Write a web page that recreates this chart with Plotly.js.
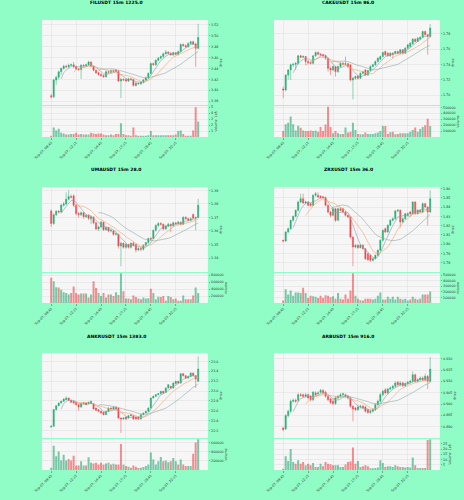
<!DOCTYPE html>
<html><head><meta charset="utf-8">
<script src="https://cdn.plot.ly/plotly-3.0.1.min.js"></script>
<style>html,body{margin:0;padding:0;background:#8ffdc5;}#c{width:464px;height:500px;}</style>
</head><body><div id="c"></div>
<script>
// ---------- DATA ----------
const timeLabels = ["Sep 07, 09:45","Sep 07, 12:15","Sep 07, 14:45","Sep 07, 17:15","Sep 07, 19:45","Sep 07, 22:15"];
const timeTickIdx = [0,10,20,30,40,50];

const fil_open  = [3.390,3.388,3.419,3.424,3.434,3.440,3.444,3.443,3.446,3.447,3.443,3.439,3.438,3.446,3.445,3.447,3.452,3.444,3.437,3.432,3.429,3.427,3.425,3.434,3.433,3.436,3.437,3.435,3.417,3.420,3.420,3.417,3.421,3.420,3.409,3.413,3.412,3.415,3.419,3.423,3.431,3.449,3.447,3.455,3.459,3.462,3.467,3.470,3.468,3.465,3.469,3.466,3.471,3.484,3.482,3.480,3.486,3.489,3.485,3.477];
const fil_close = [3.388,3.419,3.424,3.434,3.440,3.444,3.443,3.446,3.447,3.443,3.439,3.438,3.446,3.445,3.447,3.452,3.444,3.437,3.432,3.429,3.427,3.425,3.434,3.433,3.436,3.435,3.435,3.417,3.420,3.419,3.417,3.421,3.420,3.409,3.413,3.412,3.415,3.419,3.423,3.431,3.449,3.447,3.455,3.459,3.462,3.467,3.470,3.468,3.465,3.469,3.466,3.471,3.484,3.482,3.480,3.486,3.489,3.485,3.477,3.497];
const fil_high  = [3.393,3.421,3.427,3.436,3.442,3.447,3.447,3.449,3.449,3.452,3.445,3.441,3.448,3.448,3.449,3.454,3.453,3.445,3.438,3.434,3.431,3.429,3.436,3.436,3.438,3.438,3.439,3.437,3.423,3.422,3.422,3.423,3.423,3.421,3.415,3.414,3.417,3.421,3.425,3.433,3.451,3.451,3.457,3.461,3.464,3.469,3.474,3.472,3.470,3.471,3.470,3.473,3.486,3.486,3.484,3.488,3.491,3.491,3.487,3.522];
const fil_low   = [3.385,3.386,3.410,3.420,3.428,3.438,3.441,3.441,3.444,3.441,3.437,3.436,3.421,3.443,3.443,3.445,3.443,3.435,3.430,3.427,3.425,3.423,3.423,3.431,3.431,3.433,3.433,3.415,3.386,3.417,3.415,3.415,3.418,3.407,3.407,3.410,3.410,3.413,3.417,3.421,3.429,3.445,3.445,3.453,3.457,3.460,3.465,3.466,3.463,3.463,3.464,3.464,3.469,3.480,3.478,3.478,3.484,3.483,3.443,3.475];
const fil_vol   = [0.2,1.6,1.1,1.4,0.7,0.6,0.4,0.4,0.5,0.5,0.7,0.4,0.5,0.4,0.4,0.4,0.7,0.6,0.5,0.6,0.6,0.4,0.3,0.3,0.4,0.3,0.5,0.5,2.3,0.5,0.3,0.3,0.2,1.6,0.3,0.2,0.2,0.2,0.2,0.3,1.0,0.3,0.3,0.3,0.3,0.3,0.3,0.3,0.3,0.3,0.4,1.0,1.1,0.5,0.2,0.2,0.2,1.1,5.0,2.6];

const cake_open  = [1.7080,1.7066,1.7262,1.7328,1.7394,1.7402,1.7415,1.7512,1.7494,1.7503,1.7437,1.7424,1.7415,1.7512,1.7555,1.7533,1.7525,1.7512,1.7481,1.7350,1.7328,1.7372,1.7306,1.7372,1.7415,1.7402,1.7410,1.7394,1.7197,1.7219,1.7249,1.7219,1.7284,1.7328,1.7262,1.7319,1.7372,1.7394,1.7437,1.7468,1.7503,1.7568,1.7547,1.7512,1.7547,1.7547,1.7568,1.7547,1.7590,1.7547,1.7612,1.7634,1.7669,1.7730,1.7699,1.7730,1.7756,1.7831,1.7787,1.7765];
const cake_close = [1.7066,1.7262,1.7328,1.7394,1.7402,1.7415,1.7512,1.7494,1.7503,1.7437,1.7424,1.7415,1.7512,1.7555,1.7533,1.7525,1.7512,1.7481,1.7350,1.7328,1.7372,1.7306,1.7372,1.7415,1.7402,1.7410,1.7372,1.7197,1.7219,1.7241,1.7219,1.7284,1.7300,1.7262,1.7319,1.7372,1.7394,1.7437,1.7481,1.7503,1.7555,1.7525,1.7512,1.7547,1.7533,1.7568,1.7547,1.7590,1.7547,1.7612,1.7656,1.7678,1.7730,1.7699,1.7743,1.7756,1.7831,1.7787,1.7765,1.7874];
const cake_high  = [1.7110,1.7270,1.7340,1.7410,1.7420,1.7430,1.7525,1.7525,1.7520,1.7510,1.7460,1.7440,1.7520,1.7570,1.7570,1.7550,1.7540,1.7525,1.7490,1.7372,1.7390,1.7380,1.7385,1.7430,1.7430,1.7503,1.7420,1.7400,1.7240,1.7255,1.7262,1.7295,1.7320,1.7340,1.7330,1.7385,1.7410,1.7450,1.7495,1.7515,1.7570,1.7580,1.7560,1.7560,1.7560,1.7580,1.7580,1.7600,1.7600,1.7625,1.7665,1.7690,1.7743,1.7740,1.7756,1.7765,1.7840,1.7840,1.7795,1.7927];
const cake_low   = [1.6957,1.7050,1.7200,1.7197,1.7370,1.7328,1.7400,1.7480,1.7485,1.7394,1.7400,1.7400,1.7400,1.7500,1.7520,1.7510,1.7495,1.7460,1.7306,1.7262,1.7310,1.7241,1.7290,1.7360,1.7390,1.7390,1.7350,1.7180,1.6943,1.7200,1.7200,1.7210,1.7270,1.7250,1.7250,1.7310,1.7360,1.7380,1.7425,1.7455,1.7490,1.7510,1.7500,1.7500,1.7480,1.7535,1.7535,1.7535,1.7530,1.7535,1.7600,1.7620,1.7655,1.7690,1.7690,1.7720,1.7745,1.7775,1.7525,1.7750];
const cake_vol   = [100000,215000,240000,345000,215000,110000,190000,155000,110000,100000,100000,110000,100000,110000,90000,170000,100000,210000,510000,170000,65000,100000,65000,50000,50000,160000,75000,90000,240000,120000,50000,45000,45000,75000,50000,50000,50000,65000,75000,100000,185000,185000,50000,80000,90000,45000,50000,65000,65000,65000,65000,90000,120000,160000,90000,135000,170000,200000,310000,185000];

const uma_open  = [1.3748,1.3655,1.3720,1.3745,1.3740,1.3790,1.3800,1.3835,1.3855,1.3860,1.3790,1.3730,1.3720,1.3735,1.3705,1.3715,1.3690,1.3700,1.3660,1.3615,1.3630,1.3665,1.3610,1.3625,1.3600,1.3600,1.3575,1.3575,1.3490,1.3510,1.3480,1.3500,1.3480,1.3510,1.3500,1.3460,1.3470,1.3465,1.3495,1.3515,1.3545,1.3545,1.3605,1.3640,1.3655,1.3650,1.3615,1.3635,1.3650,1.3640,1.3660,1.3655,1.3665,1.3650,1.3700,1.3690,1.3680,1.3722,1.3695,1.3700];
const uma_close = [1.3655,1.3720,1.3745,1.3740,1.3790,1.3800,1.3835,1.3855,1.3850,1.3790,1.3730,1.3720,1.3735,1.3705,1.3715,1.3695,1.3705,1.3660,1.3615,1.3630,1.3665,1.3610,1.3625,1.3600,1.3605,1.3575,1.3580,1.3490,1.3510,1.3480,1.3500,1.3480,1.3510,1.3495,1.3460,1.3470,1.3465,1.3495,1.3515,1.3545,1.3540,1.3605,1.3640,1.3655,1.3650,1.3615,1.3635,1.3650,1.3640,1.3660,1.3655,1.3665,1.3650,1.3700,1.3690,1.3680,1.3690,1.3695,1.3700,1.3790];
const uma_high  = [1.3760,1.3730,1.3755,1.3755,1.3800,1.3815,1.3885,1.3900,1.3870,1.3870,1.3800,1.3740,1.3745,1.3740,1.3725,1.3725,1.3715,1.3710,1.3665,1.3640,1.3675,1.3670,1.3635,1.3630,1.3615,1.3610,1.3590,1.3580,1.3520,1.3515,1.3510,1.3505,1.3515,1.3520,1.3505,1.3480,1.3480,1.3500,1.3520,1.3550,1.3555,1.3610,1.3650,1.3665,1.3665,1.3655,1.3645,1.3660,1.3655,1.3670,1.3665,1.3675,1.3670,1.3710,1.3710,1.3700,1.3700,1.3730,1.3705,1.3838];
const uma_low   = [1.3630,1.3645,1.3710,1.3730,1.3735,1.3780,1.3790,1.3825,1.3840,1.3780,1.3715,1.3700,1.3710,1.3690,1.3695,1.3680,1.3650,1.3650,1.3605,1.3600,1.3620,1.3600,1.3600,1.3590,1.3590,1.3565,1.3565,1.3470,1.3339,1.3470,1.3470,1.3470,1.3470,1.3485,1.3440,1.3450,1.3450,1.3455,1.3490,1.3505,1.3530,1.3540,1.3595,1.3630,1.3640,1.3605,1.3610,1.3630,1.3590,1.3630,1.3645,1.3645,1.3640,1.3645,1.3685,1.3670,1.3670,1.3690,1.3605,1.3695];
const uma_vol   = [727000,627000,455000,445000,380000,310000,290000,245000,290000,470000,290000,245000,270000,270000,270000,155000,245000,627000,430000,290000,200000,290000,155000,245000,245000,200000,310000,227000,855000,336000,127000,127000,110000,218000,172000,127000,110000,155000,127000,136000,409000,290000,110000,182000,172000,200000,65000,200000,172000,110000,127000,65000,65000,218000,110000,110000,110000,218000,445000,290000];

const zrx_open  = [1.8042,1.8035,1.8132,1.8168,1.8258,1.8301,1.8366,1.8456,1.8492,1.8445,1.8456,1.8438,1.8420,1.8528,1.8528,1.8517,1.8510,1.8503,1.8420,1.8348,1.8312,1.8384,1.8258,1.8384,1.8384,1.8348,1.8312,1.8294,1.8078,1.7970,1.7988,1.7963,1.7988,1.7952,1.7898,1.7880,1.7826,1.7844,1.7880,1.7934,1.8042,1.8168,1.8132,1.8204,1.8258,1.8276,1.8359,1.8366,1.8240,1.8276,1.8312,1.8348,1.8330,1.8456,1.8330,1.8366,1.8348,1.8438,1.8402,1.8348];
const zrx_close = [1.8035,1.8132,1.8168,1.8258,1.8301,1.8366,1.8456,1.8492,1.8445,1.8456,1.8420,1.8420,1.8528,1.8546,1.8510,1.8503,1.8503,1.8420,1.8348,1.8312,1.8384,1.8258,1.8384,1.8366,1.8348,1.8312,1.8294,1.8078,1.7970,1.7988,1.7963,1.7988,1.7952,1.7844,1.7833,1.7826,1.7844,1.7880,1.7934,1.8042,1.8150,1.8132,1.8204,1.8258,1.8276,1.8359,1.8366,1.8240,1.8276,1.8330,1.8330,1.8330,1.8456,1.8330,1.8366,1.8348,1.8438,1.8402,1.8348,1.8492];
const zrx_high  = [1.8050,1.8140,1.8180,1.8265,1.8310,1.8375,1.8470,1.8546,1.8546,1.8470,1.8465,1.8450,1.8540,1.8564,1.8560,1.8530,1.8520,1.8515,1.8430,1.8360,1.8395,1.8390,1.8395,1.8400,1.8395,1.8360,1.8320,1.8300,1.8085,1.8000,1.8000,1.8000,1.8000,1.7960,1.7910,1.7890,1.7855,1.7890,1.7945,1.8055,1.8160,1.8180,1.8215,1.8270,1.8290,1.8370,1.8380,1.8375,1.8290,1.8340,1.8345,1.8360,1.8465,1.8465,1.8380,1.8380,1.8450,1.8450,1.8410,1.8582];
const zrx_low   = [1.8020,1.8025,1.8120,1.8155,1.8245,1.8290,1.8355,1.8445,1.8435,1.8430,1.8410,1.8405,1.8410,1.8515,1.8500,1.8490,1.8490,1.8410,1.8330,1.8290,1.8300,1.8240,1.8250,1.8355,1.8335,1.8300,1.8280,1.8060,1.7761,1.7955,1.7950,1.7955,1.7940,1.7830,1.7820,1.7810,1.7815,1.7835,1.7870,1.7925,1.8030,1.8120,1.8120,1.8195,1.8245,1.8265,1.8345,1.8180,1.8230,1.8265,1.8300,1.8315,1.8320,1.8320,1.8320,1.8335,1.8335,1.8390,1.8204,1.8340];
const zrx_vol   = [46000,245000,150000,223000,131000,190000,190000,177000,275000,177000,90000,131000,120000,110000,90000,131000,90000,137000,131000,103000,120000,75000,177000,75000,63000,150000,75000,223000,531000,131000,75000,51000,46000,75000,75000,75000,63000,75000,131000,190000,63000,63000,110000,75000,110000,63000,110000,75000,63000,75000,46000,63000,110000,75000,63000,75000,150000,150000,150000,205000];

const ankr_open  = [22.273,22.287,22.624,22.704,22.758,22.792,22.826,22.859,22.812,22.792,22.772,22.725,22.677,22.745,22.758,22.745,22.745,22.745,22.657,22.624,22.590,22.570,22.523,22.590,22.657,22.637,22.671,22.657,22.455,22.435,22.475,22.455,22.523,22.502,22.475,22.475,22.435,22.523,22.556,22.590,22.657,22.859,22.893,22.927,22.947,22.994,22.974,23.061,23.095,23.061,23.149,23.196,23.162,23.351,23.310,23.263,23.297,23.364,23.310,23.196];
const ankr_close = [22.290,22.624,22.704,22.758,22.792,22.839,22.859,22.812,22.772,22.758,22.725,22.677,22.745,22.758,22.725,22.772,22.792,22.637,22.610,22.590,22.556,22.523,22.590,22.657,22.637,22.671,22.637,22.455,22.435,22.455,22.435,22.502,22.502,22.435,22.435,22.435,22.523,22.556,22.590,22.657,22.859,22.893,22.927,22.947,22.994,22.960,23.061,23.129,23.061,23.162,23.196,23.162,23.351,23.310,23.263,23.297,23.364,23.310,23.243,23.445];
const ankr_high  = [22.300,22.640,22.715,22.770,22.805,22.850,22.893,22.870,22.825,22.805,22.785,22.735,22.755,22.770,22.770,22.785,22.805,22.755,22.665,22.635,22.600,22.580,22.600,22.670,22.670,22.685,22.685,22.665,22.465,22.465,22.485,22.515,22.535,22.515,22.485,22.485,22.535,22.565,22.600,22.670,22.870,22.905,22.940,22.960,23.005,23.005,23.075,23.140,23.105,23.175,23.210,23.210,23.365,23.365,23.320,23.310,23.375,23.375,23.320,23.701];
const ankr_low   = [22.260,22.280,22.610,22.690,22.745,22.780,22.815,22.800,22.760,22.745,22.710,22.603,22.665,22.735,22.715,22.735,22.735,22.625,22.600,22.580,22.545,22.510,22.515,22.580,22.625,22.625,22.625,22.440,22.152,22.420,22.420,22.445,22.490,22.420,22.420,22.420,22.425,22.510,22.545,22.580,22.645,22.845,22.880,22.915,22.935,22.945,22.960,23.050,23.050,23.050,23.135,23.150,23.150,23.295,23.250,23.250,23.285,23.300,23.061,23.185];
const ankr_vol   = [50000,529000,300000,407000,207000,336000,207000,243000,207000,314000,100000,100000,193000,100000,100000,279000,157000,143000,157000,121000,157000,121000,143000,157000,121000,136000,121000,121000,571000,121000,86000,71000,50000,100000,71000,43000,50000,64000,86000,121000,386000,229000,121000,193000,286000,193000,207000,171000,193000,264000,193000,121000,229000,121000,86000,86000,86000,357000,600000,671000];

const arb_open  = [0.8894,0.8890,0.8949,0.8968,0.9012,0.9016,0.9016,0.9041,0.9041,0.9034,0.9041,0.9034,0.9019,0.9049,0.9045,0.9052,0.9060,0.9052,0.9034,0.9022,0.9012,0.9002,0.9027,0.9034,0.9041,0.9041,0.9034,0.9027,0.8990,0.8982,0.8975,0.8987,0.8990,0.8987,0.8975,0.8963,0.8968,0.8975,0.8997,0.9012,0.9041,0.9063,0.9049,0.9066,0.9071,0.9078,0.9096,0.9085,0.9093,0.9081,0.9090,0.9096,0.9100,0.9129,0.9100,0.9107,0.9115,0.9107,0.9122,0.9100];
const arb_close = [0.8887,0.8949,0.8968,0.9012,0.9016,0.9012,0.9041,0.9038,0.9034,0.9041,0.9027,0.9019,0.9052,0.9041,0.9049,0.9060,0.9049,0.9034,0.9019,0.9007,0.9002,0.9027,0.9034,0.9041,0.9045,0.9034,0.9027,0.8990,0.8978,0.8975,0.8987,0.8990,0.8982,0.8968,0.8963,0.8968,0.8975,0.8997,0.9012,0.9041,0.9056,0.9049,0.9066,0.9071,0.9078,0.9093,0.9085,0.9093,0.9081,0.9090,0.9096,0.9100,0.9129,0.9100,0.9107,0.9115,0.9107,0.9122,0.9100,0.9154];
const arb_high  = [0.8900,0.8955,0.8975,0.9020,0.9024,0.9024,0.9048,0.9048,0.9046,0.9048,0.9046,0.9040,0.9058,0.9056,0.9056,0.9066,0.9066,0.9058,0.9040,0.9028,0.9018,0.9034,0.9040,0.9048,0.9050,0.9046,0.9040,0.9032,0.8995,0.8988,0.8994,0.8996,0.8996,0.8992,0.8980,0.8975,0.8982,0.9004,0.9020,0.9048,0.9063,0.9070,0.9072,0.9078,0.9085,0.9100,0.9102,0.9100,0.9098,0.9096,0.9102,0.9107,0.9144,0.9134,0.9114,0.9122,0.9122,0.9134,0.9128,0.9207];
const arb_low   = [0.8880,0.8885,0.8940,0.8960,0.9005,0.9005,0.9010,0.9032,0.9028,0.9028,0.9020,0.9012,0.9012,0.9035,0.9038,0.9046,0.9042,0.9028,0.9012,0.9000,0.8995,0.8996,0.9020,0.9028,0.9035,0.9028,0.9020,0.8984,0.8924,0.8968,0.8970,0.8980,0.8976,0.8962,0.8956,0.8956,0.8962,0.8970,0.8990,0.9005,0.9035,0.9042,0.9042,0.9060,0.9065,0.9072,0.9078,0.9078,0.9075,0.9075,0.9084,0.9090,0.9094,0.9094,0.9094,0.9100,0.9100,0.9100,0.9066,0.9094];
const arb_vol   = [1.3,13.2,8.7,20.0,7.7,6.1,9.4,6.1,7.7,4.5,6.1,4.5,6.8,2.9,2.9,6.1,3.5,7.7,6.1,5.5,4.5,4.5,4.5,2.9,2.9,5.2,7.7,8.4,21.6,6.1,8.7,2.9,3.5,4.5,3.5,1.6,1.6,1.9,2.3,9.4,6.8,2.9,3.5,3.5,2.9,4.5,3.5,2.9,2.9,2.3,2.9,2.3,11.9,4.5,1.9,1.9,1.9,1.9,28.7,29.4];

const fil_ticks=[3.38,3.40,3.42,3.44,3.46,3.48,3.50,3.52], fil_vticks=[1,2,3,4,5];
const cake_ticks=[1.70,1.72,1.74,1.76,1.78], cake_vticks=[100000,200000,300000,400000,500000];
const uma_ticks=[1.34,1.35,1.36,1.37,1.38,1.39], uma_vticks=[200000,400000,600000,800000];
const zrx_ticks=[1.78,1.79,1.80,1.81,1.82,1.83,1.84,1.85,1.86], zrx_vticks=[100000,200000,300000,400000,500000];
const ankr_ticks=[22.2,22.4,22.6,22.8,23.0,23.2,23.4,23.6], ankr_vticks=[200000,400000,600000];
const arb_ticks=[0.890,0.895,0.900,0.905,0.910,0.915,0.920], arb_vticks=[5,10,15,20,25];

const maPeriods=[5,10,20];

// ---------- STYLE / LAYOUT ----------
const UP='#25ad75', DN='#ef4a4f', UPV='rgba(37,173,117,0.62)', DNV='rgba(239,74,79,0.62)';
const MA_COL=['#8e9aa8','#f2a469','#8faaa4'];
const FONT='DejaVu Sans';
const colX=[[0.0905,0.448],[0.5905,0.948]];
const rowP=[[0.790,0.960],[0.456,0.626],[0.124,0.294]];
const rowV=[[0.726,0.788],[0.394,0.454],[0.060,0.122]];
const titleY=[1-2.7/500,1-169.7/500,1-336/500];
const XR=[-3.7,62.9];

const panels=[
 {t:'FILUSDT 15m 1225.0',o:fil_open,h:fil_high,l:fil_low,c:fil_close,v:fil_vol,pr:[3.373,3.529],pt:fil_ticks,pf:'.2f',vr:[0,5.2],vt:fil_vticks,vtitle:'Volume  1e5'},
 {t:'CAKEUSDT 15m 86.0',o:cake_open,h:cake_high,l:cake_low,c:cake_close,v:cake_vol,pr:[1.687,1.798],pt:cake_ticks,pf:'.2f',vr:[0,524000],vt:cake_vticks,vtitle:'Volume'},
 {t:'UMAUSDT 15m 28.0',o:uma_open,h:uma_high,l:uma_low,c:uma_close,v:uma_vol,pr:[1.3297,1.3925],pt:uma_ticks,pf:'.2f',vr:[0,860000],vt:uma_vticks,vtitle:'Volume'},
 {t:'ZRXUSDT 15m 36.0',o:zrx_open,h:zrx_high,l:zrx_low,c:zrx_close,v:zrx_vol,pr:[1.770,1.8618],pt:zrx_ticks,pf:'.2f',vr:[0,537000],vt:zrx_vticks,vtitle:'Volume'},
 {t:'ANKRUSDT 15m 1383.0',o:ankr_open,h:ankr_high,l:ankr_low,c:ankr_close,v:ankr_vol,pr:[22.05,23.77],pt:ankr_ticks,pf:'.1f',vr:[0,679000],vt:ankr_vticks,vtitle:'Volume'},
 {t:'ARBUSDT 15m 916.0',o:arb_open,h:arb_high,l:arb_low,c:arb_close,v:arb_vol,pr:[0.885,0.9225],pt:arb_ticks,pf:'.3f',vr:[0,29.7],vt:arb_vticks,vtitle:'Volume  1e5'}
];

function sma(arr,n){return arr.map((v,i)=>{if(i<n-1)return null;let s=0;for(let j=i-n+1;j<=i;j++)s+=arr[j];return s/n;});}
function sfx(n){return n===1?'':String(n);}

const idx=fil_close.map((_,i)=>i);
const traces=[], layout={
  width:464,height:500,margin:{l:0,r:0,t:0,b:0},
  paper_bgcolor:'#8ffdc5',plot_bgcolor:'#f6f6f6',showlegend:false,
  font:{family:FONT,color:'#333',size:4},annotations:[],hovermode:false
};
const tickFont={family:FONT,size:3.3,color:'#333'};
const GRID='#dedede';

panels.forEach((p,k)=>{
  const col=k%2,row=Math.floor(k/2);
  const a=2*k+1,b=2*k+2;
  traces.push({type:'candlestick',x:idx,open:p.o,high:p.h,low:p.l,close:p.c,
    xaxis:'x'+sfx(a),yaxis:'y'+sfx(a),whiskerwidth:0,
    increasing:{line:{color:UP,width:0.5},fillcolor:UP},
    decreasing:{line:{color:DN,width:0.5},fillcolor:DN},hoverinfo:'skip'});
  maPeriods.forEach((n,m)=>{
    traces.push({type:'scatter',mode:'lines',x:idx,y:sma(p.c,n),xaxis:'x'+sfx(a),yaxis:'y'+sfx(a),
      line:{color:MA_COL[m],width:0.6},hoverinfo:'skip'});
  });
  traces.push({type:'bar',x:idx,y:p.v,xaxis:'x'+sfx(b),yaxis:'y'+sfx(b),width:0.8,
    marker:{color:p.c.map((c,i)=>c>=p.o[i]?UPV:DNV),line:{width:0}},hoverinfo:'skip'});

  layout['xaxis'+sfx(a)]={domain:colX[col],range:XR,anchor:'y'+sfx(a),showticklabels:false,
    rangeslider:{visible:false},tickvals:timeTickIdx,gridcolor:GRID,gridwidth:0.5,zeroline:false,ticks:'',fixedrange:true};
  layout['xaxis'+sfx(b)]={domain:colX[col],range:XR,anchor:'y'+sfx(b),matches:'x'+sfx(a),
    tickvals:timeTickIdx,ticktext:timeLabels,tickangle:-45,tickfont:tickFont,ticks:'outside',ticklen:1.5,tickwidth:0.5,tickcolor:'#555',
    gridcolor:GRID,gridwidth:0.5,zeroline:false,fixedrange:true};
  layout['yaxis'+sfx(a)]={domain:rowP[row],range:p.pr,anchor:'x'+sfx(a),side:'right',
    tickvals:p.pt,tickformat:p.pf,tickfont:tickFont,ticks:'outside',ticklen:1.5,tickwidth:0.5,tickcolor:'#555',
    gridcolor:GRID,gridwidth:0.5,zeroline:false,fixedrange:true,
    title:{text:'Price',font:{family:FONT,size:3.3,color:'#333'},standoff:2}};
  layout['yaxis'+sfx(b)]={domain:rowV[row],range:p.vr,anchor:'x'+sfx(b),side:'right',
    tickvals:p.vt,tickformat:'d',tickfont:tickFont,ticks:'outside',ticklen:1.5,tickwidth:0.5,tickcolor:'#555',
    gridcolor:GRID,gridwidth:0.5,zeroline:false,fixedrange:true,
    title:{text:p.vtitle,font:{family:FONT,size:3.3,color:'#333'},standoff:2}};
  layout.annotations.push({text:'<b>'+p.t+'</b>',xref:'paper',yref:'paper',x:col===0?0.25:0.751,y:titleY[row],
    xanchor:'center',yanchor:'middle',showarrow:false,font:{family:FONT,size:4.5,color:'#000'}});
});

Plotly.newPlot('c',traces,layout,{staticPlot:true,displayModeBar:false});
</script></body></html>
